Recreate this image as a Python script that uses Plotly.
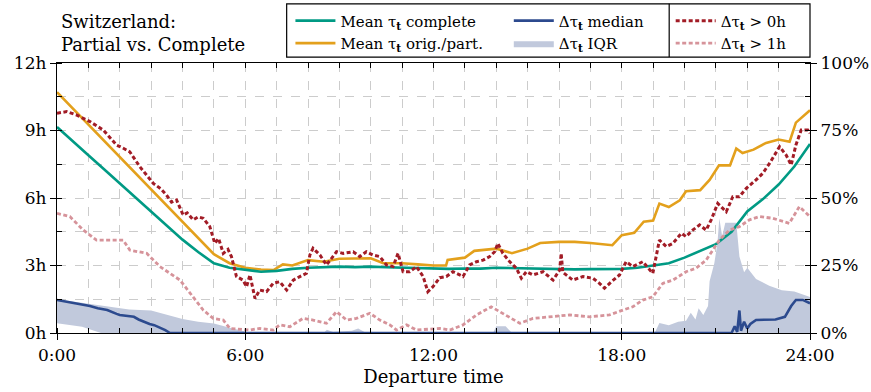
import plotly.graph_objects as go

# ---------------- data ----------------
t_complete = [0, 0.5, 1, 1.5, 2, 2.5, 3, 3.5, 4, 4.5, 5, 5.5, 6, 6.5, 7, 7.5, 8, 8.5, 9, 9.5,
              10, 10.5, 11, 11.5, 12, 12.5, 13, 13.5, 14, 14.5, 15, 15.5, 16, 16.5, 17, 17.5,
              18, 18.5, 19, 19.5, 20, 20.5, 21, 21.5, 22, 22.5, 23, 23.5, 24]
mean_complete = [9.16, 8.55, 7.9, 7.28, 6.66, 6.03, 5.4, 4.78, 4.15, 3.6, 3.1, 2.9, 2.8, 2.72, 2.76,
                 2.85, 2.9, 2.92, 2.95, 2.93, 2.95, 2.92, 2.9, 2.88, 2.87, 2.85, 2.87, 2.86, 2.9, 2.88,
                 2.86, 2.87, 2.85, 2.83, 2.84, 2.85, 2.85, 2.9, 3.0, 3.1, 3.35, 3.65, 3.95, 4.5, 5.4,
                 5.95, 6.6, 7.4, 8.4]

t_orig = [0, 0.5, 1, 1.5, 2, 2.5, 3, 3.5, 4, 4.5, 5, 5.5, 6, 6.5, 6.9, 7.2, 7.5, 8, 8.5, 9, 9.5,
          10, 10.4, 11, 11.5, 12, 12.4, 12.45, 13, 13.3, 14, 14.5, 15, 15.4, 16, 16.5, 17, 17.7,
          18, 18.4, 18.7, 19, 19.2, 19.5, 19.85, 20.05, 20.5, 20.8, 21.1, 21.45, 21.65, 21.85,
          22.2, 22.6, 23.0, 23.35, 23.55, 24]
mean_orig = [10.7, 9.98, 9.25, 8.53, 7.8, 7.1, 6.35, 5.65, 4.9, 4.2, 3.5, 3.1, 2.9, 2.82, 2.8, 3.05,
             3.0, 3.24, 3.17, 3.3, 3.3, 3.32, 3.1, 3.1, 3.05, 3.0, 3.0, 3.25, 3.35, 3.65, 3.75, 3.55,
             3.75, 4.0, 4.05, 4.05, 4.0, 3.9, 4.35, 4.45, 4.95, 5.0, 5.75, 5.6, 5.9, 6.3, 6.35, 6.8,
             7.45, 7.45, 8.2, 8.0, 8.15, 8.45, 8.6, 8.5, 9.35, 9.9]

t_med = [0, 0.3, 0.55, 1.05, 1.3, 1.6, 1.9, 2.0, 2.45, 2.6, 2.95, 3.1, 3.45, 3.6, 21.5, 21.6,
         21.68, 21.75, 21.8, 21.9, 22.0, 22.1, 22.28, 22.9, 23.2, 23.4, 23.55, 23.77, 24]
delta_median = [1.47, 1.4, 1.32, 1.2, 1.1, 1.02, 0.85, 0.8, 0.72, 0.6, 0.4, 0.35, 0.13, 0.0, 0.0,
                0.3, 0.05, 1.0, 0.1, 0.5, 0.2, 0.4, 0.58, 0.6, 0.72, 1.2, 1.47, 1.47, 1.32]

t_iqr_hi = [0, 0.5, 1, 1.7, 2.3, 3, 3.5, 4, 4.5, 5, 5.6, 6.2, 8.5, 8.6, 8.8, 9.4, 9.6, 9.8, 10.3,
            13.9, 14.0, 14.3, 14.5, 19.05, 19.2, 19.5, 19.8, 20.05, 20.2, 20.35, 20.45, 20.6,
            20.75, 20.8, 20.95, 21.05, 21.11, 21.2, 21.3, 21.65, 21.75, 21.9, 22.0, 22.28, 22.7,
            23.1, 23.5, 23.8, 24]
iqr_upper = [1.5, 1.4, 1.3, 1.17, 1.05, 1.0, 0.8, 0.62, 0.5, 0.42, 0.2, 0.0, 0.0, 0.15, 0.05, 0.1,
             0.2, 0.05, 0.0, 0.0, 0.3, 0.3, 0.0, 0.0, 0.45, 0.35, 0.5, 0.55, 0.9, 0.6, 1.1, 0.8,
             1.2, 2.3, 3.1, 4.0, 5.1, 4.3, 4.9, 4.9, 3.4, 2.7, 2.9, 2.4, 2.1, 1.9, 1.85, 1.7, 1.6]
t_iqr_lo = [0, 0.8, 1.4, 24]
iqr_lower = [0.43, 0.28, 0.0, 0.0]

t_gt0 = [0, 0.31, 0.63, 1.05, 1.47, 1.9, 2.1, 2.32, 2.64, 3.07, 3.3, 3.49, 3.65, 3.81, 4.02, 4.15,
         4.34, 4.5, 4.66, 4.87, 5.03, 5.15, 5.3, 5.45, 5.56, 5.72, 5.93, 6.04, 6.15, 6.31, 6.46,
         6.68, 6.89, 7.1, 7.32, 7.53, 7.74, 7.95, 8.06, 8.16, 8.38, 8.59, 8.91, 9.12, 9.44, 9.65,
         9.86, 10.07, 10.29, 10.5, 10.71, 10.87, 11.03, 11.24, 11.46, 11.67, 11.82, 11.98, 12.2,
         12.41, 12.62, 12.94, 13.15, 13.37, 13.58, 13.79, 13.95, 14.05, 14.21, 14.43, 14.64, 14.8,
         14.96, 15.17, 15.49, 15.81, 16.02, 16.07, 16.12, 16.23, 16.44, 16.76, 17.08, 17.29,
         17.45, 17.67, 17.93, 18.14, 18.35, 18.67, 18.99, 19.2, 19.42, 19.63, 19.9, 20.05, 20.26,
         20.48, 20.69, 20.85, 21.06, 21.33, 21.54, 21.75, 21.97, 22.28, 22.49, 22.71, 23.03,
         23.24, 23.4, 23.55, 23.72, 23.93, 24]
share_gt0 = [81.4, 82.0, 80.7, 78.3, 75.2, 69.6, 68.5, 67.1, 61.6, 55.4, 53.5, 51.1, 48.5, 49.3,
             43.7, 44.5, 41.9, 43.0, 42.5, 39.4, 33.2, 35.0, 29.5, 31.0, 28.3, 20.9, 19.6, 17.1,
             21.5, 12.8, 15.9, 15.3, 18.4, 19.0, 15.9, 19.6, 20.9, 22.1, 28.9, 31.4, 28.9, 25.2,
             30.1, 29.5, 30.1, 28.3, 30.1, 28.9, 28.3, 25.2, 24.6, 29.5, 22.7, 22.7, 24.6, 20.9,
             15.3, 17.1, 20.5, 20.9, 22.7, 20.9, 25.2, 26.4, 27.0, 28.3, 30.1, 33.2, 29.5, 26.4,
             24.0, 20.3, 22.7, 21.5, 22.7, 19.6, 23.3, 29.5, 22.5, 21.5, 19.6, 20.9, 20.3, 18.4,
             16.6, 19.0, 21.5, 26.4, 24.6, 26.4, 22.1, 34.4, 32.0, 33.2, 36.9, 35.7, 38.1, 40.0,
             38.1, 41.9, 48.0, 44.9, 50.5, 50.5, 53.6, 56.7, 59.1, 62.8, 69.0, 65.9, 62.2, 69.6,
             75.2, 75.2, 74.0]

t_gt1 = [0, 0.41, 0.84, 1.26, 2.11, 2.32, 2.86, 3.28, 3.92, 4.34, 4.66, 4.98, 5.3, 5.51, 6.15,
         6.46, 6.89, 7.1, 7.42, 7.84, 8.16, 8.59, 8.91, 9.23, 9.54, 9.97, 10.29, 10.61, 10.82,
         11.14, 11.46, 12.2, 12.52, 12.94, 13.37, 13.84, 14.21, 14.75, 15.17, 15.81, 16.34,
         16.97, 17.61, 18.04, 18.35, 18.67, 18.99, 19.31, 19.63, 20.05, 20.37, 20.69, 20.9,
         21.11, 21.43, 21.75, 22.07, 22.39, 22.81, 23.34, 23.66, 24]
share_gt1 = [44.3, 43.1, 38.1, 34.4, 34.4, 30.7, 29.5, 24.6, 19.6, 13.4, 8.5, 5.4, 4.8, 1.7, 1.1,
             1.7, 1.1, 3.0, 2.3, 5.4, 4.8, 3.6, 7.9, 4.8, 5.4, 7.3, 4.8, 3.0, 1.1, 3.0, 1.1, 1.7,
             1.1, 3.0, 6.7, 9.7, 7.3, 3.6, 5.4, 6.0, 6.7, 6.0, 6.7, 8.5, 9.7, 12.2, 13.4, 18.4,
             19.6, 22.7, 24.0, 27.0, 30.7, 34.4, 38.1, 39.4, 41.9, 43.1, 42.5, 40.6, 46.8, 43.1]

x_tickvals = [0, 6, 12, 18, 24]
x_ticktext = ["0:00", "6:00", "12:00", "18:00", "24:00"]
y_tickvals = [0, 3, 6, 9, 12]
y_ticktext = ["0h", "3h", "6h", "9h", "12h"]

# ---------------- styling ----------------
FONT = "DejaVu Serif"
C_TEAL = "#009a84"
C_ORANGE = "#e3a01c"
C_NAVY = "#2c4a8e"
C_IQR = "#c1c9dc"
C_RED = "#a21c26"
C_PINK = "#d6939a"
TAU = "\u03c4<sub><b>t</b></sub>"
DOTS = "4px,2.5px"

fig = go.Figure()

fig.add_trace(go.Scatter(
    x=t_iqr_hi + t_iqr_lo[::-1], y=iqr_upper + iqr_lower[::-1],
    fill="toself", fillcolor=C_IQR, line=dict(width=0, color=C_IQR), mode="lines",
    name="\u0394" + TAU + " IQR", legend="legend2", legendrank=2, hoverinfo="skip"))
fig.add_trace(go.Scatter(
    x=t_med, y=delta_median, mode="lines", line=dict(color=C_NAVY, width=2.6),
    name="\u0394" + TAU + " median", legend="legend2", legendrank=1))
fig.add_trace(go.Scatter(
    x=t_gt1, y=share_gt1, yaxis="y2", mode="lines", line=dict(color=C_PINK, width=2.8, dash=DOTS),
    name="\u0394" + TAU + " > 1h", legend="legend3", legendrank=2))
fig.add_trace(go.Scatter(
    x=t_gt0, y=share_gt0, yaxis="y2", mode="lines", line=dict(color=C_RED, width=3, dash=DOTS),
    name="\u0394" + TAU + " > 0h", legend="legend3", legendrank=1))
fig.add_trace(go.Scatter(
    x=t_orig, y=mean_orig, mode="lines", line=dict(color=C_ORANGE, width=2.6),
    name="Mean " + TAU + " orig./part.", legend="legend", legendrank=2))
fig.add_trace(go.Scatter(
    x=t_complete, y=mean_complete, mode="lines", line=dict(color=C_TEAL, width=2.6),
    name="Mean " + TAU + " complete", legend="legend", legendrank=1))
# invisible helper trace so the top tick axis is drawn
fig.add_trace(go.Scatter(x=[0, 24], y=[None, None], xaxis="x2", mode="lines",
                         showlegend=False, hoverinfo="skip"))

grid = dict(showgrid=True, gridcolor="#cccccc", griddash="dash", gridwidth=1)

leg_common = dict(bgcolor="rgba(0,0,0,0)", borderwidth=0, font=dict(family=FONT, size=15, color="black"),
                  orientation="v", yanchor="top", xanchor="left", tracegroupgap=0, itemwidth=40)

fig.update_layout(
    width=871, height=392,
    margin=dict(l=57, r=61, t=63, b=59, autoexpand=False),
    plot_bgcolor="white", paper_bgcolor="white",
    font=dict(family=FONT, size=17, color="black"),
    showlegend=True,
    xaxis=dict(range=[0, 24], tickvals=x_tickvals, ticktext=x_ticktext, ticks="outside",
               ticklen=6, tickcolor="black", showline=True, linecolor="black", linewidth=1.3,
               mirror=True, zeroline=False, showgrid=False, automargin=False,
               minor=dict(dtick=1, ticks="inside", ticklen=5, tickcolor="black", **grid),
               title=dict(text="Departure time", standoff=6,
                          font=dict(family=FONT, size=18, color="black"))),
    xaxis2=dict(range=[0, 24], overlaying="x", side="top", anchor="y", dtick=1, ticks="inside",
                ticklen=5, tickcolor="black", showticklabels=False, showgrid=False, zeroline=False,
                automargin=False),
    yaxis=dict(range=[0, 12], tickvals=y_tickvals, ticktext=y_ticktext, ticks="outside",
               ticklen=6, tickcolor="black", showline=True, linecolor="black", linewidth=1.3,
               zeroline=False, showgrid=True, gridcolor="#cccccc", griddash="dash", automargin=False,
               minor=dict(dtick=1.5, ticks="inside", ticklen=5, tickcolor="black", **grid)),
    yaxis2=dict(range=[0, 100], overlaying="y", side="right", dtick=25, ticksuffix="%",
                ticks="outside", ticklen=6, tickcolor="black", showline=True, linecolor="black",
                linewidth=1.3, showgrid=False, zeroline=False, automargin=False,
                minor=dict(dtick=12.5, ticks="inside", ticklen=5, tickcolor="black", showgrid=False)),
    legend=dict(x=0.31, y=1.217, **leg_common),
    legend2=dict(x=0.60, y=1.217, **leg_common),
    legend3=dict(x=0.815, y=1.217, **leg_common),
)

fig.add_shape(type="rect", xref="paper", yref="paper", x0=0.305, x1=1.0, y0=1.022, y1=1.219,
              line=dict(color="black", width=1.2), fillcolor="rgba(0,0,0,0)", layer="above")
fig.add_shape(type="line", xref="paper", yref="paper", x0=0.813, x1=0.813, y0=1.022, y1=1.219,
              line=dict(color="black", width=1.2), layer="above")

fig.add_annotation(text="Switzerland:<br>Partial vs. Complete", xref="paper", yref="paper",
                   x=0.003, y=1.20, xanchor="left", yanchor="top", align="left", showarrow=False,
                   font=dict(family=FONT, size=18, color="black"))

fig.write_html("out.html")
